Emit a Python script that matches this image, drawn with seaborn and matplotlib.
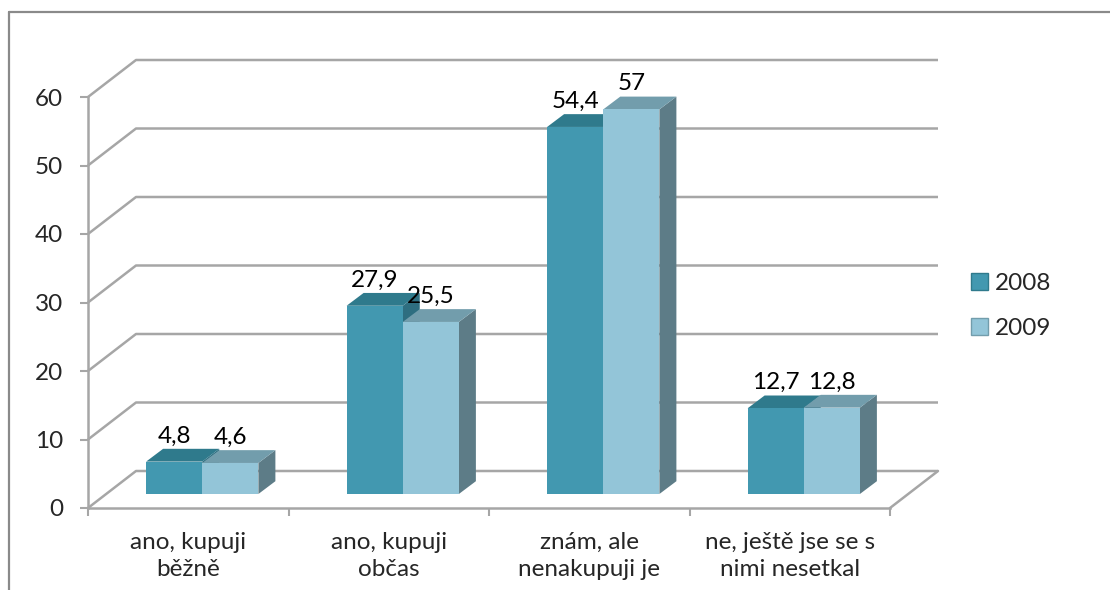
import matplotlib
matplotlib.use("Agg")
import matplotlib.pyplot as plt
import matplotlib.transforms as mtransforms
from matplotlib.patches import Polygon, Patch
from matplotlib.lines import Line2D
import seaborn as sns
import pandas as pd

categories = ["ano, kupuji\nběžně", "ano, kupuji\nobčas", "znám, ale\nnenakupuji je", "ne, ještě jse se s\nnimi nesetkal"]
years = ["2008", "2009"]
values_2008 = [4.8, 27.9, 54.4, 12.7]
values_2009 = [4.6, 25.5, 57.0, 12.8]
yticks = [0, 10, 20, 30, 40, 50, 60]

front_colors = {"2008": "#4298B0", "2009": "#93C5D8"}
top_colors = {"2008": "#2F7A8C", "2009": "#729DAC"}
side_colors = {"2008": "#2E6E80", "2009": "#5D7C87"}

df = pd.DataFrame({
    "kategorie": categories * 2,
    "rok": [years[0]] * 4 + [years[1]] * 4,
    "hodnota": values_2008 + values_2009,
})

sns.set_theme(style="white")
plt.rcParams["font.family"] = ["Lato", "DejaVu Sans"]
FS = 17.5

W, H = 1110, 590
fig = plt.figure(figsize=(W / 100, H / 100), dpi=100)
ax = fig.add_axes([88 / W, 1 - 508 / H, 802 / W, 411 / H])

sns.barplot(data=df, x="kategorie", y="hodnota", hue="rok", order=categories,
            hue_order=years, palette=front_colors, width=0.56, ax=ax,
            saturation=1, linewidth=0, legend=False)

ax.set_xlim(-0.5, 3.5)
ax.set_ylim(0, 60)
ax.set_xlabel("")
ax.set_ylabel("")

# pixel -> data conversions
px_x = ax.bbox.width / 4.0
px_y = ax.bbox.height / 60.0
grey = "#A6A6A6"

# back wall offset (depth of floor)
bdx, bdy = 48 / px_x, 37 / px_y
for t in yticks:
    ax.plot([-0.5, -0.5 + bdx, 3.5 + bdx], [t, t + bdy, t + bdy], color=grey,
            lw=1.8, clip_on=False, zorder=1, solid_capstyle="butt")
# right floor edge
ax.plot([3.5, 3.5 + bdx], [0, bdy], color=grey, lw=1.8, clip_on=False, zorder=1)

# bars sit a bit deeper: shifted up/right and slightly foreshortened
y0 = ax.bbox.y0
persp = (mtransforms.Affine2D().translate(0, -y0).scale(1, 0.985).translate(0, y0)
         + mtransforms.ScaledTranslation(14 / 100, 14 / 100, fig.dpi_scale_trans))
tr = ax.transData + persp
ddx, ddy = 17 / px_x, 13 / px_y
for hi, (cont, yr) in enumerate(zip(ax.containers, years)):
    base_z = 3 + hi * 0.1
    for bar in cont.patches:
        x0 = bar.get_x()
        w = bar.get_width()
        h = bar.get_height()
        x1 = x0 + w
        bar.set_transform(tr)
        bar.set_zorder(base_z + 0.02)
        bar.set_clip_on(False)
        side = Polygon([(x1, 0), (x1 + ddx, ddy), (x1 + ddx, h + ddy), (x1, h)],
                       closed=True, facecolor=side_colors[yr], edgecolor="none",
                       transform=tr, zorder=base_z, clip_on=False)
        top = Polygon([(x0, h), (x1, h), (x1 + ddx, h + ddy), (x0 + ddx, h + ddy)],
                      closed=True, facecolor=top_colors[yr], edgecolor="none",
                      transform=tr, zorder=base_z + 0.01, clip_on=False)
        ax.add_patch(side)
        ax.add_patch(top)
        lab = ("%g" % h).replace(".", ",")
        ax.annotate(lab, xy=(x0 + w / 2, h), xycoords=tr, xytext=(0, 19 * 0.72),
                    textcoords="offset points", ha="center", va="baseline",
                    fontsize=FS, color="black", zorder=10, annotation_clip=False)

# axes styling
for s in ["top", "right"]:
    ax.spines[s].set_visible(False)
ax.spines["left"].set_color(grey)
ax.spines["left"].set_linewidth(1.8)
ax.spines["left"].set_bounds(0, 60)
ax.spines["bottom"].set_color(grey)
ax.spines["bottom"].set_linewidth(1.8)
ax.set_yticks(yticks)
ax.set_yticklabels([str(t) for t in yticks], fontsize=FS)
ax.tick_params(axis="y", direction="out", length=6, width=1.5, color=grey, pad=12, left=True)
ax.set_xticks(range(4))
ax.set_xticklabels(categories, fontsize=FS, linespacing=1.4)
ax.tick_params(axis="x", which="major", length=0, pad=17)
ax.set_xticks([-0.5, 0.5, 1.5, 2.5, 3.5], minor=True)
ax.tick_params(axis="x", which="minor", direction="out", length=6, width=1.5, color=grey, bottom=True)
ax.grid(False)
ax.set_facecolor("none")

handles = [Patch(facecolor=front_colors[y], edgecolor=top_colors[y], linewidth=1) for y in years]
fig.legend(handles, years, loc="center left", bbox_to_anchor=(961 / W, 1 - 306 / H),
           frameon=False, fontsize=FS, handlelength=0.7, handleheight=0.7,
           handletextpad=0.3, labelspacing=0.95, borderaxespad=0)

# outer chart border
fig.add_artist(Line2D([9 / W, 9 / W], [0, 1 - 12 / H], color="#8A8A8A", lw=1.6,
                      transform=fig.transFigure))
fig.add_artist(Line2D([9 / W, 1], [1 - 12 / H, 1 - 12 / H], color="#8A8A8A", lw=1.6,
                      transform=fig.transFigure))

fig.savefig("out.png", dpi=100, facecolor="white")
